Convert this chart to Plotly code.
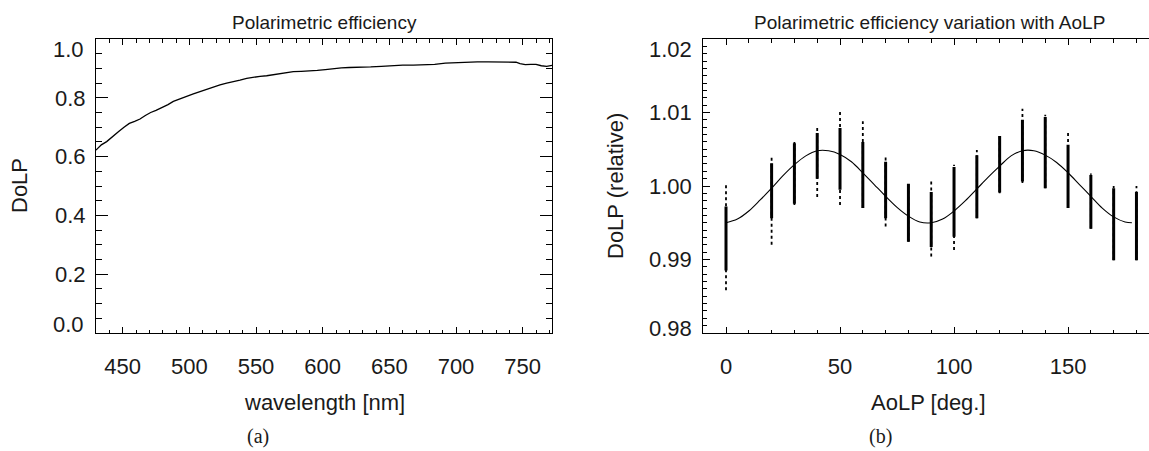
import plotly.graph_objects as go

# ---------------- data: panel (a) ----------------
wavelength_nm = [430, 434, 438, 442, 447, 451, 455, 459, 463, 467, 471, 475, 479, 484,
                 488, 493, 498, 503, 508, 513, 518, 523, 528, 533, 538, 543, 548, 553,
                 558, 563, 568, 573, 578, 584, 590, 596, 602, 608, 614, 620, 628, 636,
                 644, 652, 660, 668, 676, 684, 692, 700, 708, 716, 724, 732, 740, 745,
                 748, 752, 756, 760, 764, 768, 772]
dolp = [0.622, 0.640, 0.651, 0.665, 0.685, 0.700, 0.713, 0.720, 0.728, 0.740, 0.750,
        0.757, 0.765, 0.777, 0.788, 0.797, 0.806, 0.813, 0.821, 0.829, 0.838, 0.844,
        0.850, 0.854, 0.860, 0.866, 0.870, 0.873, 0.875, 0.878, 0.882, 0.886, 0.889,
        0.890, 0.891, 0.893, 0.896, 0.900, 0.902, 0.903, 0.903, 0.905, 0.907, 0.910,
        0.911, 0.911, 0.912, 0.914, 0.918, 0.920, 0.921, 0.922, 0.922, 0.921, 0.921,
        0.921, 0.916, 0.913, 0.914, 0.914, 0.909, 0.907, 0.910]

# ---------------- data: panel (b) ----------------
aolp_deg = [0, 20, 30, 40, 50, 60, 70, 80, 90, 100, 110, 120, 130, 140, 150, 160, 170, 180]
tail_hi = [1.0002, 1.0040, 1.0063, 1.0083, 1.0103, 1.0088, 1.0040, 1.0004, 1.0010, 1.0029,
           1.0049, 1.0070, 1.0105, 1.0097, 1.0074, 1.0017, 1.0000, 1.0000]
core_hi = [0.9972, 1.0031, 1.0058, 1.0072, 1.0079, 1.0060, 1.0033, 1.0003, 0.9992, 1.0026,
           1.0042, 1.0068, 1.0090, 1.0094, 1.0056, 1.0015, 0.9997, 0.9992]
core_lo = [0.9885, 0.9956, 0.9976, 1.0010, 0.9995, 0.9970, 0.9956, 0.9924, 0.9917, 0.9931,
           0.9956, 0.9991, 1.0006, 0.9997, 0.9970, 0.9942, 0.9899, 0.9899]
tail_lo = [0.9858, 0.9920, 0.9974, 0.9985, 0.9974, 0.9970, 0.9945, 0.9924, 0.9904, 0.9913,
           0.9956, 0.9990, 1.0004, 0.9997, 0.9970, 0.9942, 0.9899, 0.9899]

fit_aolp = [0, 5, 10, 15, 20, 25, 30, 35, 40, 45, 50, 55, 60, 65, 70, 75, 80, 85, 90, 95,
            100, 105, 110, 115, 120, 125, 130, 135, 140, 145, 150, 155, 160, 165, 170,
            175, 178]
fit_dolp = [0.9950, 0.9955, 0.9966, 0.9981, 0.9997, 1.0014, 1.0029, 1.0041, 1.0048, 1.0048,
            1.0043, 1.0033, 1.0018, 1.0002, 0.9986, 0.9971, 0.9959, 0.9951, 0.9950, 0.9955,
            0.9966, 0.9980, 0.9996, 1.0012, 1.0027, 1.0041, 1.0048, 1.0048, 1.0042, 1.0032,
            1.0018, 1.0002, 0.9986, 0.9970, 0.9958, 0.9951, 0.9950]

left_yticks = [0.2, 0.4, 0.6, 0.8]
right_yticks = [0.99, 1.00, 1.01]

W, H = 1149, 451
FONT = "Liberation Sans"
INK = "#1a1a1a"


def px(x):
    return x / W


def py(y):
    return 1 - y / H


def segments(xs, lo, hi):
    xx, yy = [], []
    for x, a, b in zip(xs, lo, hi):
        xx += [x, x, None]
        yy += [a, b, None]
    return xx, yy


fig = go.Figure()

fig.add_trace(go.Scatter(x=wavelength_nm, y=dolp, mode="lines",
                         line=dict(color="black", width=1.3),
                         xaxis="x", yaxis="y", hoverinfo="skip"))

# sparse tails (dotted) and dense cores (solid) of each AoLP column
tx, ty = segments(aolp_deg, tail_lo, tail_hi)
fig.add_trace(go.Scatter(x=tx, y=ty, mode="lines",
                         line=dict(color="black", width=1.8, dash="dot"),
                         xaxis="x2", yaxis="y2", hoverinfo="skip"))
cx, cy = segments(aolp_deg, core_lo, core_hi)
fig.add_trace(go.Scatter(x=cx, y=cy, mode="lines",
                         line=dict(color="black", width=3),
                         xaxis="x2", yaxis="y2", hoverinfo="skip"))
fig.add_trace(go.Scatter(x=fit_aolp, y=fit_dolp, mode="lines", line_shape="spline",
                         line=dict(color="black", width=1.1),
                         xaxis="x2", yaxis="y2", hoverinfo="skip"))

ydom = [py(333), py(39)]
tickfont = dict(family=FONT, size=22, color=INK)

common = dict(showline=True, linecolor="black", linewidth=1, showgrid=False,
              zeroline=False, ticks="inside", tickcolor="black", tickwidth=1,
              tickfont=tickfont)

fig.update_layout(
    width=W, height=H,
    margin=dict(l=0, r=0, t=0, b=0, pad=0),
    paper_bgcolor="white", plot_bgcolor="white",
    showlegend=False,
    xaxis=dict(domain=[px(96), px(552)], range=[430, 772], anchor="y",
               tickmode="linear", tick0=450, dtick=50, ticklen=6,
               minor=dict(ticks="inside", dtick=10, tick0=430, ticklen=3.5,
                          tickcolor="black"),
               mirror="ticks", ticklabelstandoff=14, **common),
    yaxis=dict(domain=ydom, range=[0, 1.0], anchor="x",
               tickmode="array", tickvals=left_yticks,
               ticktext=[f"{v:.1f}" for v in left_yticks], ticklen=12,
               minor=dict(ticks="inside", dtick=0.05, tick0=0, ticklen=6,
                          tickcolor="black"),
               mirror="ticks", ticklabelstandoff=5, **common),
    xaxis2=dict(domain=[px(703.2), 1.0], range=[-10, 185.5], anchor="y2",
                tickmode="linear", tick0=0, dtick=50, ticklen=6,
                minor=dict(ticks="inside", dtick=10, tick0=0, ticklen=3.5,
                           tickcolor="black"),
                mirror="ticks", ticklabelstandoff=14, **common),
    yaxis2=dict(domain=ydom, range=[0.98, 1.02], anchor="x2",
                tickmode="array", tickvals=right_yticks,
                ticktext=[f"{v:.2f}" for v in right_yticks], ticklen=7,
                minor=dict(ticks="inside", dtick=0.001, tick0=0.98, ticklen=4,
                           tickcolor="black"),
                mirror=False, ticklabelstandoff=6, **common),
)

ann = []


def label(text, x, y, size=22, xanchor="center", angle=0, family=FONT, color=INK):
    ann.append(dict(text=text, x=px(x), y=py(y), xref="paper", yref="paper",
                    xanchor=xanchor, yanchor="middle", showarrow=False, textangle=angle,
                    font=dict(family=family, size=size, color=color)))


# end tick labels (drawn slightly inside the axis ends as in the reference)
label("1.0", 86, 50, xanchor="right")
label("0.0", 86, 324, xanchor="right")
label("1.02", 694, 50, xanchor="right")
label("0.98", 694, 328, xanchor="right")

# titles
label("Polarimetric efficiency", 324, 22, size=19)
label("Polarimetric efficiency variation with AoLP", 929, 22, size=19)

# axis titles
label("DoLP", 20, 186, angle=-90)
label("wavelength [nm]", 324, 402)
label("DoLP (relative)", 616, 186, angle=-90)
label("AoLP [deg.]", 928, 402)

# sub-figure captions
label("(a)", 258, 436, size=20, family="Liberation Serif")
label("(b)", 880, 436, size=20, family="Liberation Serif")

fig.update_layout(annotations=ann)

fig.write_html("out.html",
               config={"displayModeBar": False},
               post_script="document.body.style.margin='0';"
                           "document.documentElement.style.overflow='hidden';")
